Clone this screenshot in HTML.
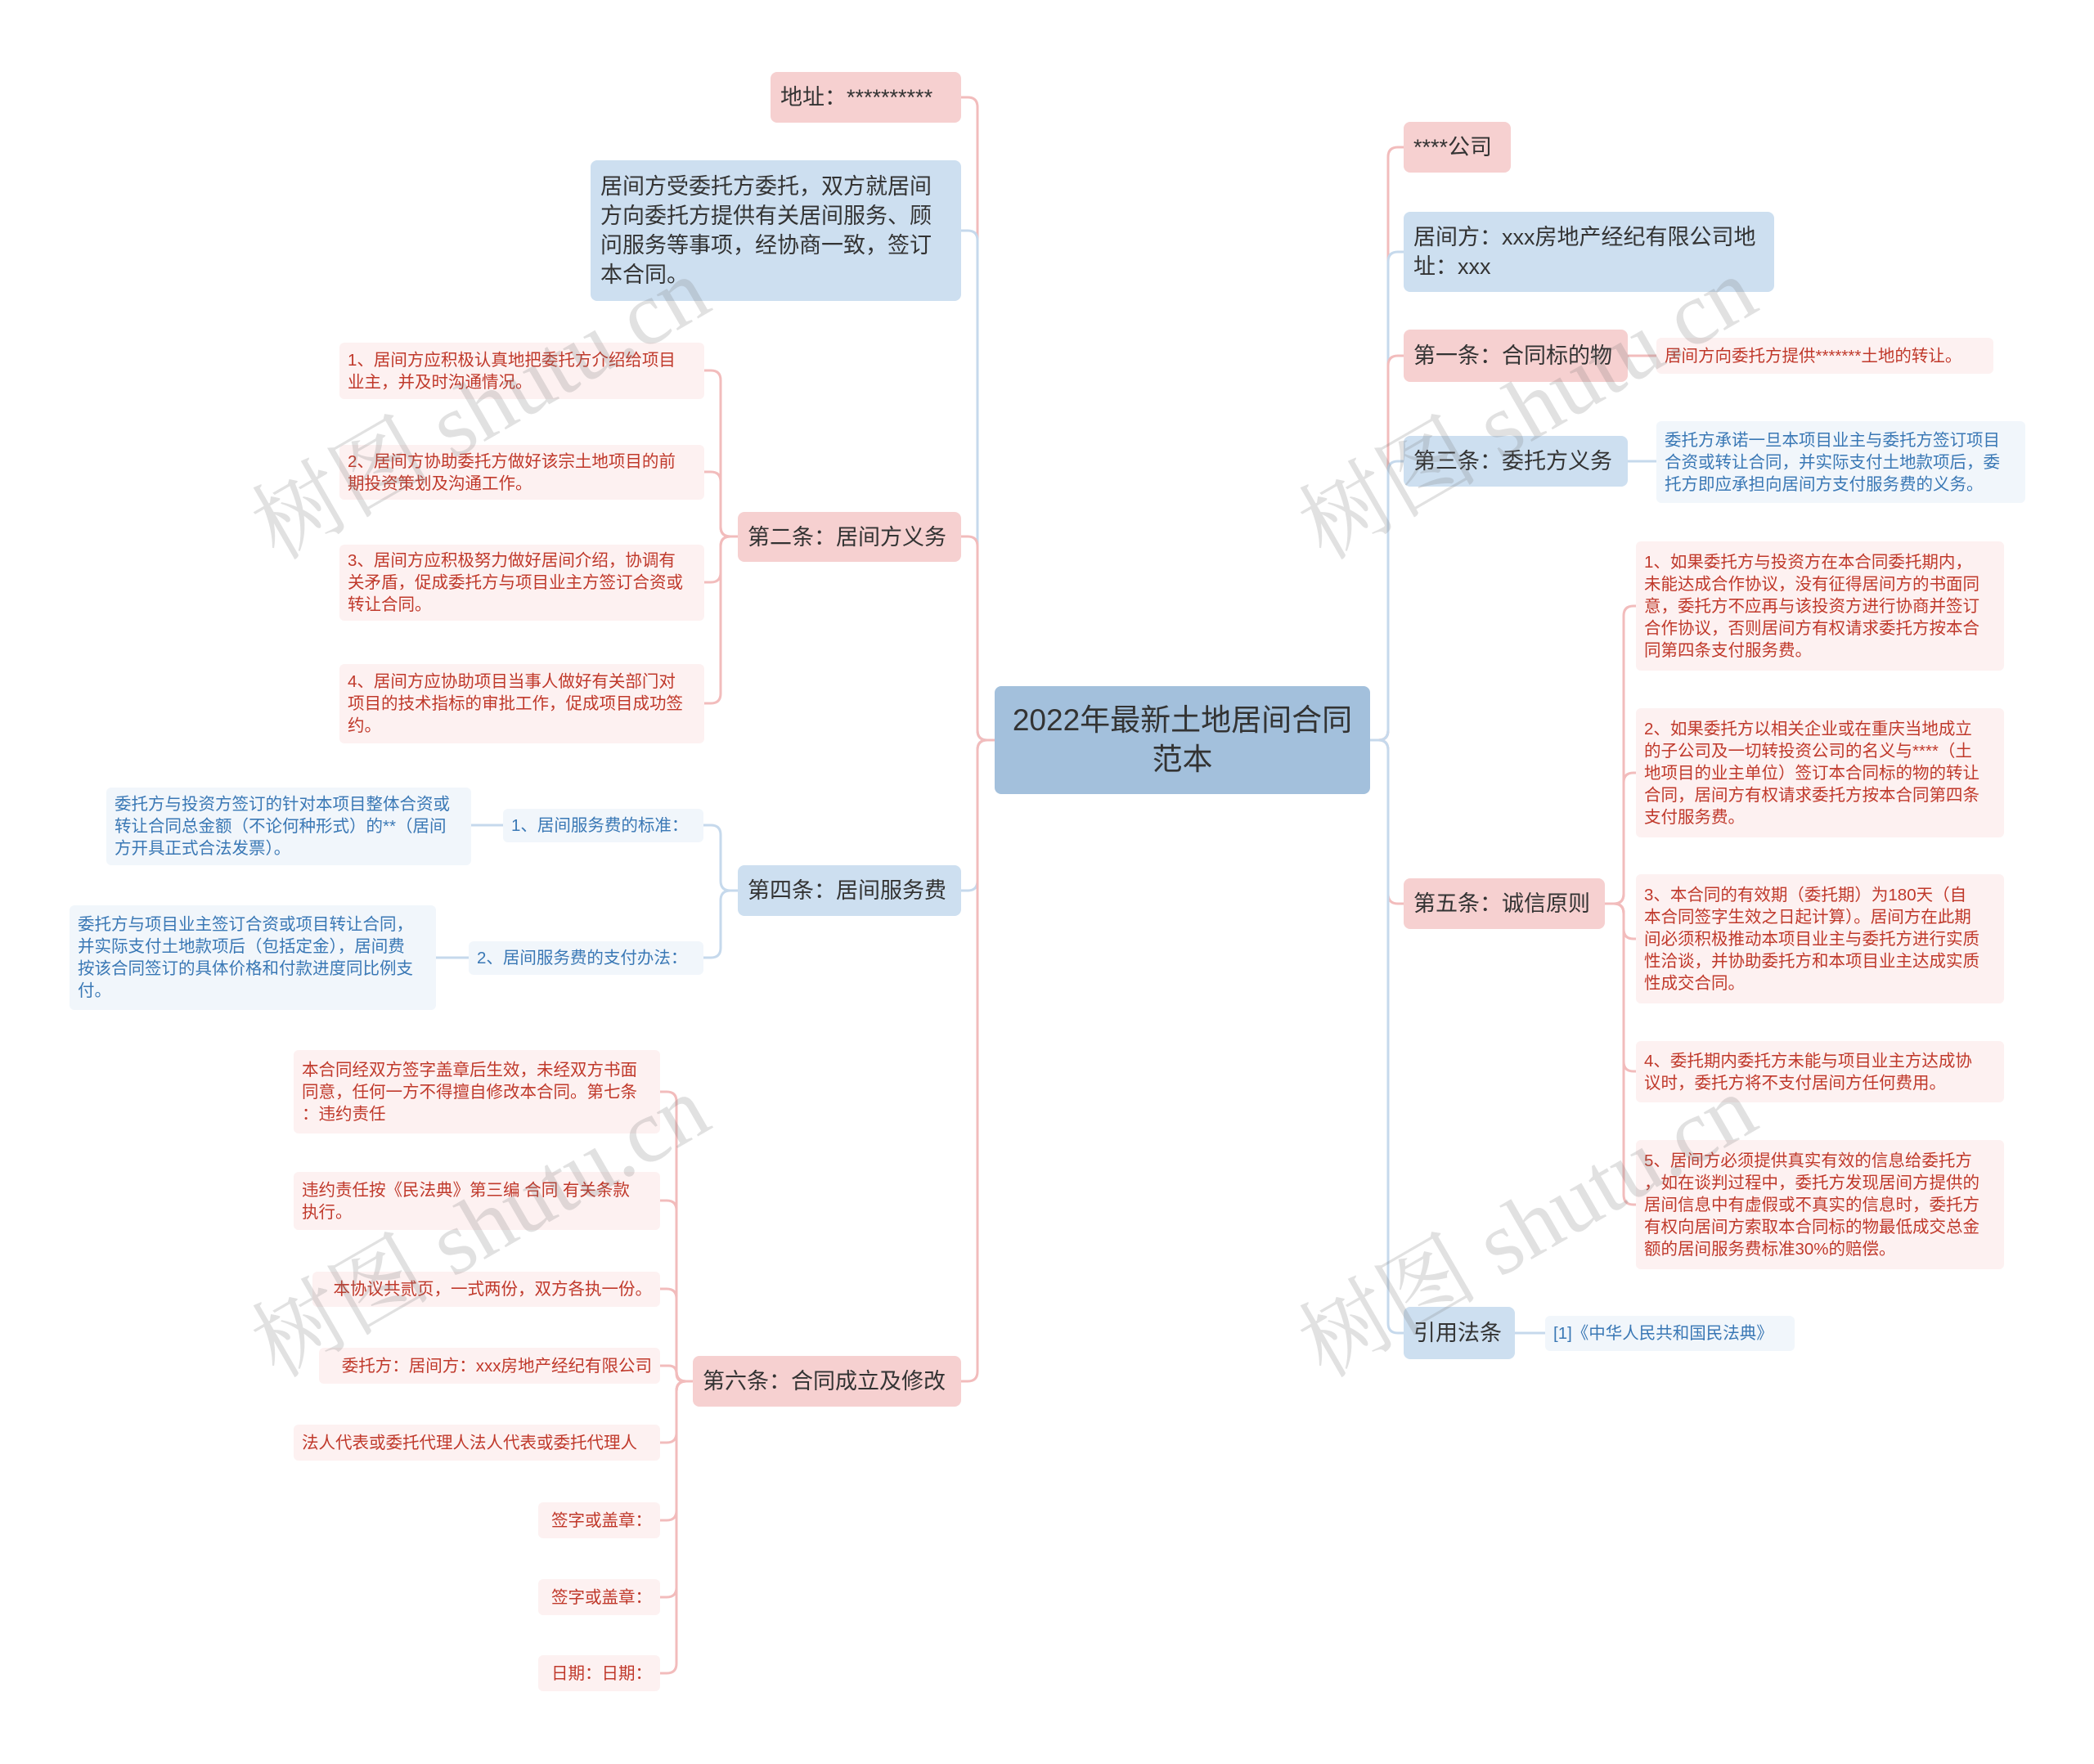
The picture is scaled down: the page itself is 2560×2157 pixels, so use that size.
<!DOCTYPE html>
<html><head><meta charset="utf-8">
<style>
html,body{margin:0;padding:0;background:#fff}
body{width:2560px;height:2157px;position:relative;overflow:hidden;font-family:"Liberation Sans","Noto Sans CJK SC",sans-serif}
#w{position:absolute;left:-5px;top:-4px;width:2560px;height:2157px}
.n{position:absolute;box-sizing:border-box;border-radius:8px;color:#333;font-size:27px;line-height:36px;padding:0 12px;display:flex;align-items:center;white-space:nowrap}
.p{background:#f6d0d0}
.b{background:#cddff0}
.lp{background:#fdf1f1;color:#c0392b;font-size:20.5px;line-height:27px;border-radius:6px;padding:0 10px}
.lb{background:#f1f6fb;color:#3a78b5;font-size:20.5px;line-height:27px;border-radius:6px;padding:0 10px}
.r{justify-content:flex-end;text-align:right}
.wm{position:absolute;font-family:"Liberation Serif","Noto Serif CJK SC",serif;font-size:110px;color:rgba(120,120,120,0.22);transform:rotate(-30deg);transform-origin:left bottom;white-space:nowrap}
svg{position:absolute;left:0;top:0}
</style></head><body><div id="w">
<svg id="s" width="2560" height="2157"></svg>

<div class="n" style="left:1221px;top:843px;width:459px;height:132px;background:#a3c0dc;font-size:37px;line-height:48px;justify-content:center;text-align:center;padding:0 10px">2022年最新土地居间合同<br>范本</div>

<div class="n p" style="left:947px;top:92px;width:233px;height:62px">地址：**********</div>
<div class="n b" style="left:727px;top:200px;width:453px;height:172px">居间方受委托方委托，双方就居间<br>方向委托方提供有关居间服务、顾<br>问服务等事项，经协商一致，签订<br>本合同。</div>
<div class="n p" style="left:907px;top:630px;width:273px;height:61px">第二条：居间方义务</div>
<div class="n lp" style="left:420px;top:423px;width:446px;height:69px">1、居间方应积极认真地把委托方介绍给项目<br>业主，并及时沟通情况。</div>
<div class="n lp" style="left:420px;top:548px;width:446px;height:67px">2、居间方协助委托方做好该宗土地项目的前<br>期投资策划及沟通工作。</div>
<div class="n lp" style="left:420px;top:670px;width:446px;height:93px">3、居间方应积极努力做好居间介绍，协调有<br>关矛盾，促成委托方与项目业主方签订合资或<br>转让合同。</div>
<div class="n lp" style="left:420px;top:816px;width:446px;height:97px">4、居间方应协助项目当事人做好有关部门对<br>项目的技术指标的审批工作，促成项目成功签<br>约。</div>

<div class="n b" style="left:907px;top:1062px;width:273px;height:62px">第四条：居间服务费</div>
<div class="n lb" style="left:620px;top:993px;width:245px;height:41px">1、居间服务费的标准：</div>
<div class="n lb" style="left:135px;top:967px;width:446px;height:95px">委托方与投资方签订的针对本项目整体合资或<br>转让合同总金额（不论何种形式）的**（居间<br>方开具正式合法发票）。</div>
<div class="n lb" style="left:578px;top:1155px;width:287px;height:41px">2、居间服务费的支付办法：</div>
<div class="n lb" style="left:90px;top:1111px;width:448px;height:128px">委托方与项目业主签订合资或项目转让合同，<br>并实际支付土地款项后（包括定金），居间费<br>按该合同签订的具体价格和付款进度同比例支<br>付。</div>

<div class="n p" style="left:852px;top:1662px;width:328px;height:62px">第六条：合同成立及修改</div>
<div class="n lp" style="left:364px;top:1288px;width:448px;height:102px">本合同经双方签字盖章后生效，未经双方书面<br>同意，任何一方不得擅自修改本合同。第七条<br>：违约责任</div>
<div class="n lp" style="left:364px;top:1437px;width:448px;height:71px">违约责任按《民法典》第三编 合同 有关条款<br>执行。</div>
<div class="n lp r" style="left:387px;top:1559px;width:425px;height:43px">本协议共贰页，一式两份，双方各执一份。</div>
<div class="n lp r" style="left:395px;top:1652px;width:417px;height:44px">委托方：居间方：xxx房地产经纪有限公司</div>
<div class="n lp" style="left:364px;top:1746px;width:448px;height:44px">法人代表或委托代理人法人代表或委托代理人</div>
<div class="n lp r" style="left:663px;top:1841px;width:149px;height:44px">签字或盖章：</div>
<div class="n lp r" style="left:663px;top:1935px;width:149px;height:44px">签字或盖章：</div>
<div class="n lp r" style="left:663px;top:2028px;width:149px;height:44px">日期：日期：</div>

<div class="n p" style="left:1721px;top:153px;width:131px;height:62px">****公司</div>
<div class="n b" style="left:1721px;top:263px;width:453px;height:98px">居间方：xxx房地产经纪有限公司地<br>址：xxx</div>
<div class="n p" style="left:1721px;top:407px;width:274px;height:64px">第一条：合同标的物</div>
<div class="n lp" style="left:2030px;top:417px;width:412px;height:44px">居间方向委托方提供*******土地的转让。</div>
<div class="n b" style="left:1721px;top:537px;width:274px;height:62px">第三条：委托方义务</div>
<div class="n lb" style="left:2030px;top:519px;width:451px;height:100px">委托方承诺一旦本项目业主与委托方签订项目<br>合资或转让合同，并实际支付土地款项后，委<br>托方即应承担向居间方支付服务费的义务。</div>
<div class="n p" style="left:1721px;top:1078px;width:246px;height:62px">第五条：诚信原则</div>
<div class="n lp" style="left:2005px;top:666px;width:450px;height:158px">1、如果委托方与投资方在本合同委托期内，<br>未能达成合作协议，没有征得居间方的书面同<br>意，委托方不应再与该投资方进行协商并签订<br>合作协议，否则居间方有权请求委托方按本合<br>同第四条支付服务费。</div>
<div class="n lp" style="left:2005px;top:870px;width:450px;height:158px">2、如果委托方以相关企业或在重庆当地成立<br>的子公司及一切转投资公司的名义与****（土<br>地项目的业主单位）签订本合同标的物的转让<br>合同，居间方有权请求委托方按本合同第四条<br>支付服务费。</div>
<div class="n lp" style="left:2005px;top:1073px;width:450px;height:158px">3、本合同的有效期（委托期）为180天（自<br>本合同签字生效之日起计算）。居间方在此期<br>间必须积极推动本项目业主与委托方进行实质<br>性洽谈，并协助委托方和本项目业主达成实质<br>性成交合同。</div>
<div class="n lp" style="left:2005px;top:1277px;width:450px;height:75px">4、委托期内委托方未能与项目业主方达成协<br>议时，委托方将不支付居间方任何费用。</div>
<div class="n lp" style="left:2005px;top:1398px;width:450px;height:158px">5、居间方必须提供真实有效的信息给委托方<br>，如在谈判过程中，委托方发现居间方提供的<br>居间信息中有虚假或不真实的信息时，委托方<br>有权向居间方索取本合同标的物最低成交总金<br>额的居间服务费标准30%的赔偿。</div>
<div class="n b" style="left:1721px;top:1602px;width:136px;height:64px">引用法条</div>
<div class="n lb" style="left:1894px;top:1613px;width:305px;height:43px">[1]《中华人民共和国民法典》</div>

<div class="wm" style="left:360px;top:560px">树图 shutu.cn</div>
<div class="wm" style="left:1640px;top:560px">树图 shutu.cn</div>
<div class="wm" style="left:360px;top:1560px">树图 shutu.cn</div>
<div class="wm" style="left:1640px;top:1560px">树图 shutu.cn</div>
</div>
<script>
var P="#f2bcbc",B="#c6d9ec",s=document.getElementById('s'),out='';
function c(x1,y1,xm,x2,y2,col){
 var r=12,d;
 if(Math.abs(y2-y1)<2){d='M'+x1+' '+y1+' H'+x2;}
 else{
  var sx=xm>x1?1:-1,sx2=x2>xm?1:-1,sy=y2>y1?1:-1;
  var rr=Math.min(r,Math.abs(y2-y1)/2);
  d='M'+x1+' '+y1+' H'+(xm-sx*rr)+' Q'+xm+' '+y1+' '+xm+' '+(y1+sy*rr)+' V'+(y2-sy*rr)+' Q'+xm+' '+y2+' '+(xm+sx2*rr)+' '+y2+' H'+x2;
 }
 out+='<path d="'+d+'" fill="none" stroke="'+col+'" stroke-width="3"/>';
}
c(1221,909,1200,1180,123,P);c(1221,909,1200,1180,286,B);c(1221,909,1200,1180,660,P);
c(1221,909,1200,1180,1093,B);c(1221,909,1200,1180,1693,P);
c(1680,909,1702,1721,184,P);c(1680,909,1702,1721,312,B);c(1680,909,1702,1721,439,P);
c(1680,909,1702,1721,568,B);c(1680,909,1702,1721,1109,P);c(1680,909,1702,1721,1634,B);
[457,581,716,864].forEach(function(y){c(907,660,886,866,y,P)});
c(907,1093,886,865,1013,B);c(907,1093,886,865,1175,B);
c(620,1013,600,581,1013,B);c(578,1175,558,538,1175,B);
[1339,1472,1580,1674,1768,1863,1957,2050].forEach(function(y){c(852,1693,832,812,y,P)});
c(1995,439,2012,2030,439,P);c(1995,568,2012,2030,568,B);
[745,949,1152,1314,1477].forEach(function(y){c(1967,1109,1990,2005,y,P)});
c(1857,1634,1875,1894,1634,B);
s.innerHTML=out;
</script>
</body></html>
